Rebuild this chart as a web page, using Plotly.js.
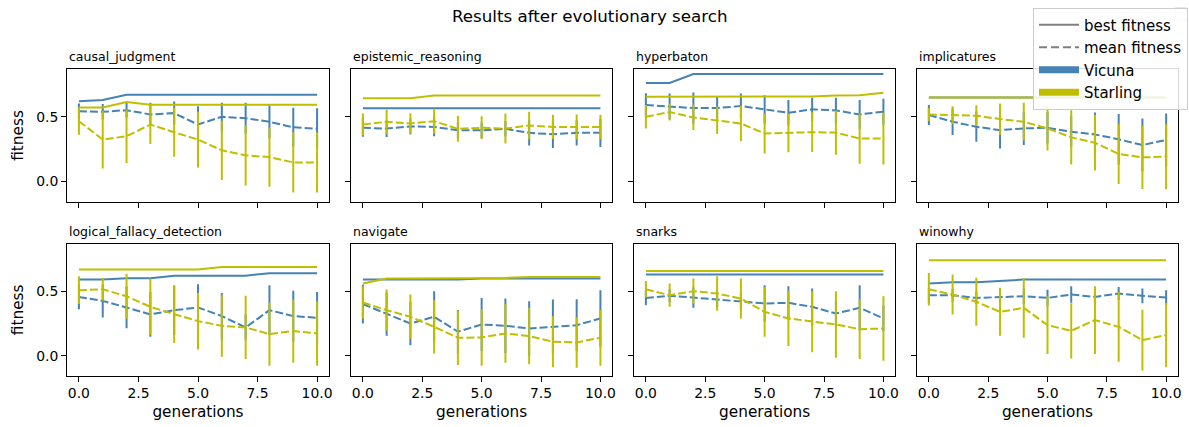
<!DOCTYPE html>
<html>
<head>
<meta charset="utf-8">
<script src="https://cdn.plot.ly/plotly-3.0.1.min.js"></script>
<style>html,body{margin:0;padding:0;background:#fff;}#chart{width:1189px;height:427px;}</style>
</head>
<body>
<div id="chart"></div>
<script>
// ---- data ----
const tasks = ["causal_judgment","epistemic_reasoning","hyperbaton","implicatures",
               "logical_fallacy_detection","navigate","snarks","winowhy"];
const generations = [0,1,2,3,4,5,6,7,8,9,10];
const xTickVals = [0,2.5,5,7.5,10];
const xTickLabels = ["0.0","2.5","5.0","7.5","10.0"];
const yTickVals = [0,0.5];
const yTickLabels = ["0.0","0.5"];

const vicunaBest = [
  [0.62,0.63,0.67,0.67,0.67,0.67,0.67,0.67,0.67,0.67,0.67],
  [0.565,0.565,0.565,0.565,0.565,0.565,0.565,0.565,0.565,0.565,0.565],
  [0.76,0.76,0.83,0.83,0.83,0.83,0.83,0.83,0.83,0.83,0.83],
  [0.649,0.649,0.649,0.649,0.649,0.649,0.649,0.649,0.649,0.649,0.649],
  [0.59,0.59,0.60,0.60,0.62,0.62,0.62,0.62,0.64,0.64,0.64],
  [0.59,0.59,0.59,0.59,0.59,0.598,0.598,0.598,0.598,0.598,0.598],
  [0.63,0.63,0.63,0.63,0.63,0.63,0.63,0.63,0.63,0.63,0.63],
  [0.56,0.57,0.57,0.58,0.59,0.59,0.59,0.59,0.59,0.59,0.59]
];
const vicunaMean = [
  [0.543,0.538,0.551,0.518,0.528,0.44,0.5,0.489,0.461,0.419,0.407],
  [0.415,0.409,0.425,0.422,0.396,0.396,0.407,0.376,0.365,0.376,0.376],
  [0.591,0.58,0.567,0.567,0.583,0.557,0.531,0.557,0.549,0.518,0.539],
  [0.513,0.462,0.423,0.397,0.41,0.415,0.385,0.364,0.326,0.282,0.321],
  [0.456,0.425,0.374,0.32,0.353,0.374,0.307,0.219,0.353,0.307,0.294],
  [0.4,0.322,0.25,0.302,0.186,0.242,0.232,0.211,0.224,0.237,0.289],
  [0.448,0.464,0.451,0.436,0.418,0.405,0.41,0.379,0.327,0.371,0.289],
  [0.469,0.469,0.448,0.456,0.461,0.448,0.474,0.456,0.482,0.464,0.451]
];
const vicunaStd = [
  [0.06,0.06,0.057,0.09,0.09,0.142,0.109,0.119,0.127,0.15,0.158],
  [0.07,0.065,0.062,0.072,0.06,0.06,0.06,0.098,0.106,0.098,0.109],
  [0.09,0.1,0.12,0.093,0.096,0.109,0.098,0.09,0.098,0.111,0.1],
  [0.077,0.103,0.115,0.141,0.128,0.12,0.12,0.169,0.195,0.205,0.205],
  [0.095,0.129,0.162,0.173,0.19,0.18,0.18,0.1,0.193,0.196,0.2],
  [0.15,0.168,0.168,0.198,0.168,0.206,0.211,0.211,0.211,0.2,0.219],
  [0.057,0.05,0.08,0.06,0.06,0.142,0.129,0.142,0.1,0.175,0.1],
  [0.06,0.05,0.05,0.06,0.06,0.064,0.064,0.06,0.05,0.057,0.057]
];
const starlingBest = [
  [0.572,0.572,0.613,0.593,0.593,0.593,0.593,0.593,0.593,0.593,0.593],
  [0.642,0.642,0.642,0.663,0.663,0.663,0.663,0.663,0.663,0.663,0.663],
  [0.655,0.655,0.655,0.655,0.655,0.655,0.655,0.657,0.663,0.666,0.686],
  [0.649,0.649,0.649,0.649,0.649,0.649,0.649,0.649,0.649,0.649,0.649],
  [0.668,0.668,0.668,0.668,0.668,0.668,0.688,0.688,0.688,0.688,0.688],
  [0.559,0.598,0.598,0.598,0.598,0.603,0.603,0.611,0.611,0.611,0.611],
  [0.657,0.657,0.657,0.657,0.657,0.657,0.657,0.657,0.657,0.657,0.657],
  [0.74,0.74,0.74,0.74,0.74,0.74,0.74,0.74,0.74,0.74,0.74]
];
const starlingMean = [
  [0.466,0.324,0.35,0.44,0.38,0.324,0.241,0.202,0.189,0.148,0.148],
  [0.44,0.461,0.448,0.466,0.407,0.415,0.409,0.433,0.422,0.422,0.422],
  [0.5,0.536,0.495,0.474,0.448,0.371,0.376,0.381,0.378,0.332,0.332],
  [0.518,0.513,0.508,0.482,0.462,0.41,0.341,0.3,0.213,0.187,0.192],
  [0.508,0.515,0.461,0.379,0.322,0.268,0.232,0.219,0.168,0.191,0.173],
  [0.412,0.353,0.302,0.224,0.139,0.142,0.173,0.152,0.108,0.103,0.139],
  [0.515,0.469,0.5,0.482,0.443,0.34,0.289,0.263,0.242,0.206,0.211],
  [0.515,0.474,0.418,0.34,0.371,0.237,0.193,0.276,0.224,0.121,0.16]
];
const starlingStd = [
  [0.104,0.223,0.207,0.15,0.189,0.215,0.228,0.233,0.228,0.233,0.233],
  [0.085,0.095,0.08,0.096,0.1,0.088,0.116,0.106,0.093,0.096,0.093],
  [0.09,0.065,0.098,0.106,0.137,0.155,0.15,0.153,0.17,0.194,0.2],
  [0.05,0.069,0.08,0.12,0.146,0.17,0.21,0.215,0.231,0.244,0.251],
  [0.108,0.088,0.175,0.219,0.224,0.219,0.24,0.245,0.245,0.245,0.25],
  [0.126,0.16,0.173,0.206,0.211,0.219,0.227,0.219,0.198,0.196,0.216],
  [0.064,0.09,0.098,0.134,0.155,0.193,0.214,0.237,0.258,0.232,0.25],
  [0.126,0.155,0.186,0.186,0.232,0.224,0.214,0.263,0.27,0.235,0.25]
];

// ---- style ----
const W = 1189, H = 427;
const VICUNA = "#4682b4";
const STARLING = "#bfbf00";
const GRAY = "#808080";
const FONT = "DejaVu Sans";
const colPx = [[67,329],[351,612.3],[634,895.3],[917,1178]];
const rowPx = [[69.3,201.7],[244,375.7]];
const yRange = [-0.155,0.866];
const xRange = [-0.5,10.5];

const traces = [];
const layout = {
  width: W, height: H,
  margin: {l:0,r:0,t:0,b:0},
  paper_bgcolor: "#fff", plot_bgcolor: "#fff",
  font: {family: FONT, size: 14, color: "#000"},
  showlegend: true,
  title: {text: "Results after evolutionary search", x: 0.496, xanchor: "center",
          y: 1 - 16/H, yref: "container", yanchor: "middle",
          font: {family: FONT, size: 16.7, color: "#000"}},
  legend: {x: 1033/W, y: 1 - 7.5/H, xanchor: "left", yanchor: "top",
           bgcolor: "rgba(255,255,255,0.85)", bordercolor: "#cccccc", borderwidth: 1,
           font: {family: FONT, size: 15, color: "#000"}, tracegroupgap: 0,
           itemwidth: 40},
  annotations: [],
  shapes: []
};

tasks.forEach((task, i) => {
  const n = i + 1;
  const row = Math.floor(i / 4), col = i % 4;
  const xa = "x" + (n === 1 ? "" : n), ya = "y" + (n === 1 ? "" : n);
  const xd = [colPx[col][0]/W, colPx[col][1]/W];
  const yd = [1 - rowPx[row][1]/H, 1 - rowPx[row][0]/H];
  layout["xaxis" + (n === 1 ? "" : n)] = {
    domain: xd, anchor: ya, range: xRange, showgrid: false, zeroline: false,
    showline: true, mirror: true, linecolor: "#000", linewidth: 1,
    ticks: "outside", ticklen: 5, tickwidth: 1, tickcolor: "#000",
    tickmode: "array", tickvals: xTickVals, ticktext: xTickLabels,
    showticklabels: row === 1, tickfont: {family: FONT, size: 13.9, color: "#000"},
    title: row === 1 ? {text: "generations", font: {family: FONT, size: 15.3, color: "#000"}, standoff: 5} : {text: ""}
  };
  layout["yaxis" + (n === 1 ? "" : n)] = {
    domain: yd, anchor: xa, range: yRange, showgrid: false, zeroline: false,
    showline: true, mirror: true, linecolor: "#000", linewidth: 1,
    ticks: "outside", ticklen: 5, tickwidth: 1, tickcolor: "#000",
    tickmode: "array", tickvals: yTickVals, ticktext: yTickLabels,
    showticklabels: col === 0, tickfont: {family: FONT, size: 13.9, color: "#000"},
    title: col === 0 ? {text: "fitness", font: {family: FONT, size: 15.3, color: "#000"}, standoff: 8} : {text: ""}
  };
  layout.annotations.push({
    text: task, xref: "paper", yref: "paper", x: xd[0], y: yd[1],
    xanchor: "left", yanchor: "bottom", yshift: 3, showarrow: false,
    font: {family: FONT, size: 12.5, color: "#000"}
  });
  traces.push({x: generations, y: vicunaBest[i], xaxis: xa, yaxis: ya, mode: "lines",
    line: {color: VICUNA, width: 2}, showlegend: false, hoverinfo: "skip"});
  traces.push({x: generations, y: vicunaMean[i], xaxis: xa, yaxis: ya, mode: "lines",
    line: {color: VICUNA, width: 2, dash: "8px,3px"}, showlegend: false, hoverinfo: "skip",
    error_y: {type: "data", array: vicunaStd[i], visible: true, color: VICUNA, thickness: 2, width: 0}});
  traces.push({x: generations, y: starlingBest[i], xaxis: xa, yaxis: ya, mode: "lines",
    line: {color: STARLING, width: 2}, showlegend: false, hoverinfo: "skip"});
  traces.push({x: generations, y: starlingMean[i], xaxis: xa, yaxis: ya, mode: "lines",
    line: {color: STARLING, width: 2, dash: "8px,3px"}, showlegend: false, hoverinfo: "skip",
    error_y: {type: "data", array: starlingStd[i], visible: true, color: STARLING, thickness: 2, width: 0}});
});

// legend entries
const legendItems = [
  {name: "best fitness", color: GRAY, width: 2, dash: "solid"},
  {name: "mean fitness", color: GRAY, width: 2, dash: "8px,4px"},
  {name: "Vicuna", color: VICUNA, width: 7, dash: "solid"},
  {name: "Starling", color: STARLING, width: 7, dash: "solid"}
];
legendItems.forEach((it, k) => {
  traces.push({x: [null], y: [null], mode: "lines", name: it.name,
    line: {color: it.color, width: it.width, dash: it.dash}, hoverinfo: "skip"});
});

// small empty box at top right
layout.shapes.push({type: "rect", xref: "paper", yref: "paper",
  x0: 1175/W, x1: 1187/W, y0: 1 - 20/H, y1: 1 - 8/H,
  line: {color: "#cccccc", width: 1}, fillcolor: "#fff", layer: "above"});

Plotly.newPlot("chart", traces, layout, {displayModeBar: false, staticPlot: true});
</script>
</body>
</html>
